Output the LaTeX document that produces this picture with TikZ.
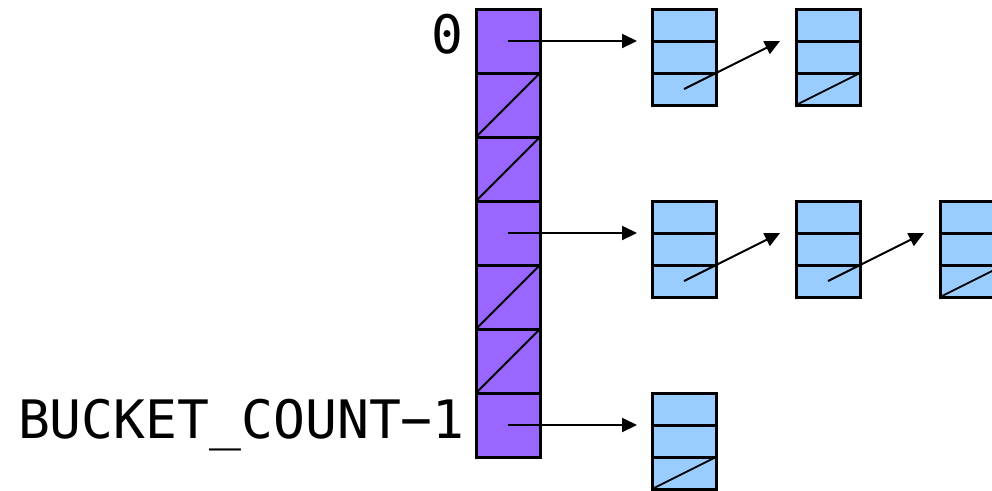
\documentclass[tikz,border=0pt]{standalone}
\usepackage{fontspec}
\newfontfamily\labelfont{DejaVu Sans Mono}
\usetikzlibrary{arrows.meta}
\definecolor{bucketpurple}{HTML}{9966FF}
\definecolor{nodeblue}{HTML}{99CCFF}
\tikzset{
  bcell/.style={draw=black, fill=bucketpurple, line width=3pt, minimum width=64pt, minimum height=64pt, inner sep=0pt, outer sep=0pt},
  lcell/.style={draw=black, fill=nodeblue, line width=3pt, minimum width=64pt, minimum height=32pt, inner sep=0pt, outer sep=0pt},
  nullslash/.style={line width=1.8pt},
  ptr/.style={line width=2pt, -{Triangle[length=15pt,width=14pt]}},
  lbl/.style={font=\labelfont\fontsize{53}{60}\selectfont, inner sep=0pt}
}
\begin{document}
\begin{tikzpicture}[x=1pt,y=-1pt]
\useasboundingbox (0,0) rectangle (992,490);
\clip (0,0) rectangle (992,490);
% bucket array
\foreach \i in {0,...,6} {
  \node[bcell] (b\i) at (508,{41+64*\i}) {};
}
\foreach \i in {1,2,4,5} {
  \draw[nullslash] (b\i.south west) -- (b\i.north east);
}
% labels
\node[lbl, anchor=base east] (l0) at (464,53) {0};
\node[lbl, anchor=base east] (l6) at (465,438) {BUCKET\_COUNT−1};
% row 1
\foreach \c/\x in {1/684,2/828} {
  \node[lcell] (r1c\c a) at (\x,25) {};
  \node[lcell] (r1c\c b) at (\x,57) {};
  \node[lcell] (r1c\c c) at (\x,89) {};
}
% row 2
\foreach \c/\x in {1/684,2/828,3/972} {
  \node[lcell] (r2c\c a) at (\x,217) {};
  \node[lcell] (r2c\c b) at (\x,249) {};
  \node[lcell] (r2c\c c) at (\x,281) {};
}
% row 3
\node[lcell] (r3c1a) at (684,409) {};
\node[lcell] (r3c1b) at (684,441) {};
\node[lcell] (r3c1c) at (684,473) {};
% null slashes in last nodes
\draw[nullslash] (r1c2c.south west) -- (r1c2c.north east);
\draw[nullslash] (r2c3c.south west) -- (r2c3c.north east);
\draw[nullslash] (r3c1c.south west) -- (r3c1c.north east);
% bucket pointers
\coordinate (t1) at ([xshift=-15pt]r1c1a.south west);
\coordinate (t2) at ([xshift=-15pt]r2c1a.south west);
\coordinate (t3) at ([xshift=-15pt]r3c1a.south west);
\draw[ptr] (b0.center) -- (t1);
\draw[ptr] (b3.center) -- (t2);
\draw[ptr] (b6.center) -- (t3);
% next pointers
\coordinate (n12) at ([xshift=-16pt]r1c2a.south west);
\coordinate (n22) at ([xshift=-16pt]r2c2a.south west);
\coordinate (n23) at ([xshift=-16pt]r2c3a.south west);
\draw[ptr] (r1c1c.center) -- (n12);
\draw[ptr] (r2c1c.center) -- (n22);
\draw[ptr] (r2c2c.center) -- (n23);
\end{tikzpicture}
\end{document}
